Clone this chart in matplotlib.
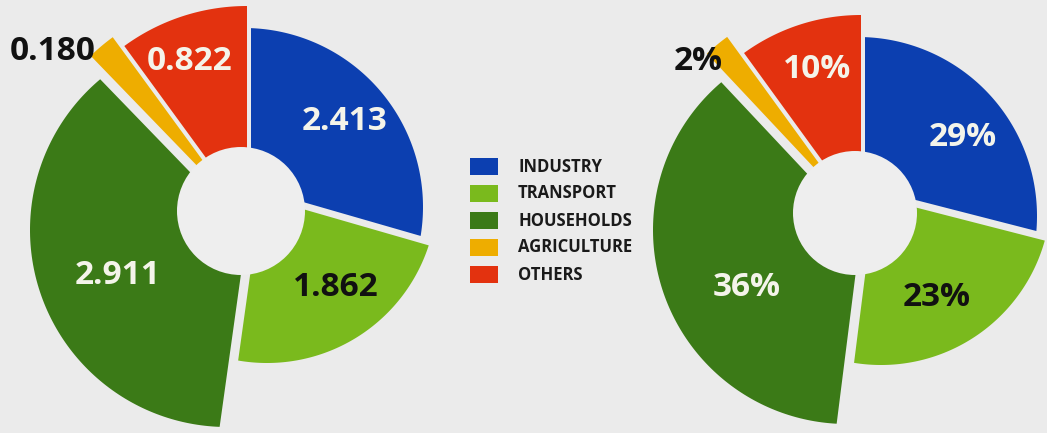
import numpy as np
import matplotlib.pyplot as plt
from matplotlib.patches import Polygon, Circle, Rectangle

# Final energy consumption by sector
sectors = ["INDUSTRY", "TRANSPORT", "HOUSEHOLDS", "AGRICULTURE", "OTHERS"]
consumption = [2.413, 1.862, 2.911, 0.180, 0.822]
share_pct = [29, 23, 36, 2, 10]

colors = ["#0c3fb0", "#7aba1d", "#3b7a17", "#eead00", "#e3320f"]
text_colors = ["#f4f4ea", "#111111", "#f4f4ea", "#111111", "#f4f4ea"]
bg = "#ebebeb"

W, H = 1047, 433
fig = plt.figure(figsize=(W / 100, H / 100), dpi=100, facecolor=bg)
ax = fig.add_axes([0, 0, 1, 1])
ax.set_xlim(0, W)
ax.set_ylim(0, H)
ax.axis("off")


def sector_patch(apex, t1, t2, oc, r, color):
    # outer edge follows a circle around oc, edges are rays from apex
    th = np.radians(np.linspace(t1, t2, 120))
    u = np.column_stack([np.cos(th), np.sin(th)])
    d = np.asarray(apex) - np.asarray(oc)
    b = u @ d
    c = d @ d - r ** 2
    t = -b + np.sqrt(b * b - c)
    pts = np.asarray(apex) + u * t[:, None]
    return Polygon(np.vstack([apex, pts]), closed=True, fc=color, ec="none", zorder=2)


def draw_ring(origin, values, apexes, outer_c, radii, hole, labels, label_xy):
    ox, oy = origin[0], H - origin[1]
    vals = np.asarray(values, dtype=float)
    cum = np.concatenate([[0], np.cumsum(vals) / vals.sum()])
    angles = 90 - 360 * cum
    for i in range(len(vals)):
        apex = (ox + apexes[i][0], oy + apexes[i][1])
        oc = (ox + outer_c[i][0], oy + outer_c[i][1])
        ax.add_patch(sector_patch(apex, angles[i], angles[i + 1], oc, radii[i], colors[i]))
    hx, hy, hr = hole
    ax.add_patch(Circle((ox + hx, oy + hy), hr, fc="#eeeeee", ec="none", zorder=3))
    for i, txt in enumerate(labels):
        x, y = label_xy[i]
        ax.text(x, H - y, txt, ha="center", va="center", fontsize=24,
                fontweight="bold", family="Open Sans", color=text_colors[i], zorder=4)


apex_off = [(10, 30), (20, 20), (6, -14), (-5, 11), (6, 3)]

# left ring: absolute values
draw_ring(
    (241, 217), consumption, apex_off,
    [(3, 10), (26, 24), (-14, -13), (-5, 11), (6, 3)],
    [179, 170, 197, 209, 208],
    (0, 6, 64),
    [f"{v:.3f}" for v in consumption],
    [(345, 121), (336, 288), (118, 275), (53, 52), (190, 61)],
)

# right ring: shares
draw_ring(
    (855, 217), share_pct, apex_off,
    [(3, 1), (26, 22), (-8, -13), (-5, 11), (6, 3)],
    [179, 170, 194, 209, 199],
    (0, 4, 62),
    [f"{v}%" for v in share_pct],
    [(963, 137), (937, 297), (747, 288), (698, 62), (817, 70)],
)

# legend
for i, name in enumerate(sectors):
    top = 158 + 27 * i
    ax.add_patch(Rectangle((470, H - top - 17), 28, 17, fc=colors[i], ec="none"))
    ax.text(518, H - top - 8.5, name, ha="left", va="center", fontsize=12,
            fontweight="bold", family="Open Sans", color="#1a1a1a")

fig.savefig("out.png", dpi=100, facecolor=bg)
